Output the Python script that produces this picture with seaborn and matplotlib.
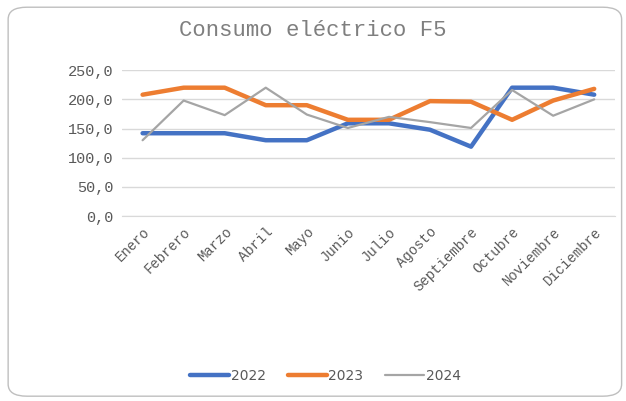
import numpy as np
import pandas as pd
import matplotlib
matplotlib.use('Agg')
import matplotlib.pyplot as plt
from matplotlib.patches import FancyBboxPatch
import seaborn as sns

# Chart data
meses = ['Enero', 'Febrero', 'Marzo', 'Abril', 'Mayo', 'Junio', 'Julio',
         'Agosto', 'Septiembre', 'Octubre', 'Noviembre', 'Diciembre']
consumo_2022 = [142, 142, 142, 130, 130, 159, 159, 148, 119, 220, 220, 208]
consumo_2023 = [208, 220, 220, 190, 190, 165, 165, 197, 196, 165, 198, 218]
consumo_2024 = [130, 198, 173, 220, 174, 151, 170, 161, 151, 216, 172, 200]
anios = ['2022', '2023', '2024']

df = pd.DataFrame({
    'mes': meses * 3,
    'consumo': consumo_2022 + consumo_2023 + consumo_2024,
    'anio': [a for a in anios for _ in meses],
})

sns.set_style('white')
mono = 'Liberation Mono'
txt_color = '#595959'

fig = plt.figure(figsize=(6.26, 4.01), dpi=100)
ax = fig.add_axes([0.195, 0.461, 0.787, 0.364])

palette = {'2022': '#4472C4', '2023': '#ED7D31', '2024': '#A5A5A5'}
sizes = {'2022': 3.2, '2023': 3.2, '2024': 1.6}
sns.lineplot(data=df, x='mes', y='consumo', hue='anio', size='anio',
             palette=palette, sizes=sizes, sort=False, ax=ax, legend=False)

ax.set_xlim(-0.5, len(meses) - 0.5)
ax.set_ylim(0, 250)
ax.set_yticks(np.arange(0, 251, 50))
ax.set_yticklabels([f'{v:.1f}'.replace('.', ',') for v in np.arange(0, 251, 50)],
                   fontfamily=mono, fontsize=11, color=txt_color)
ax.set_xticks(range(len(meses)))
ax.set_xticklabels(meses, rotation=45, ha='right', rotation_mode='anchor',
                   fontfamily=mono, fontsize=10, color=txt_color)
ax.tick_params(axis='both', length=0, pad=6)
ax.grid(axis='y', color='#D9D9D9', linewidth=1)
for s in ['top', 'right', 'left']:
    ax.spines[s].set_visible(False)
ax.spines['bottom'].set_color('#D9D9D9')
ax.set_xlabel('')
ax.set_ylabel('')

fig.text(0.5, 0.925, 'Consumo eléctrico F5', ha='center', va='center',
         fontfamily=mono, fontsize=16, color='#7F7F7F')

# Legend
handles = [plt.Line2D([], [], color=palette[a], lw=sizes[a]) for a in anios]
fig.legend(handles, anios, loc='center', bbox_to_anchor=(0.52, 0.063), ncol=3,
           frameon=False, handlelength=2.8, handletextpad=0.1, columnspacing=1.6,
           prop={'family': 'DejaVu Sans', 'size': 10}, labelcolor=txt_color)

# Rounded chart border
border = FancyBboxPatch((0.013, 0.012), 0.98, 0.97, boxstyle='round,pad=0,rounding_size=0.03',
                        transform=fig.transFigure, facecolor='none',
                        edgecolor='#BFBFBF', linewidth=1)
fig.patches.append(border)

fig.savefig('out.png', dpi=100)
